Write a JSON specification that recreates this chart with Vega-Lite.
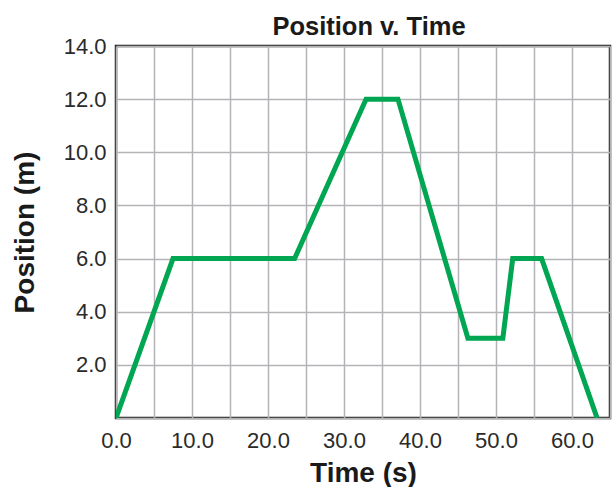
{
  "$schema": "https://vega.github.io/schema/vega-lite/v6.json",
  "width": 494,
  "height": 372,
  "autosize": "none",
  "padding": {"left": 116, "top": 46, "right": 5, "bottom": 69},
  "background": "white",
  "title": {
    "text": "Position v. Time",
    "font": "Liberation Sans",
    "fontSize": 25.5,
    "fontWeight": "bold",
    "color": "#1a1a1a",
    "anchor": "middle",
    "dx": 6,
    "offset": -5
  },
  "data": {
    "values": [
      {"t": 0, "p": 0},
      {"t": 7.5, "p": 6},
      {"t": 23.5, "p": 6},
      {"t": 32.9, "p": 12},
      {"t": 37.1, "p": 12},
      {"t": 46.3, "p": 3},
      {"t": 50.9, "p": 3},
      {"t": 52.2, "p": 6},
      {"t": 56, "p": 6},
      {"t": 63.3, "p": 0}
    ]
  },
  "mark": {"type": "line", "color": "#00a651", "strokeWidth": 5, "strokeJoin": "miter", "strokeCap": "butt", "clip": true},
  "encoding": {
    "x": {
      "field": "t",
      "type": "quantitative",
      "scale": {"domain": [0, 65], "nice": false, "zero": false},
      "axis": {
        "title": "Time (s)",
        "values": [0, 5, 10, 15, 20, 25, 30, 35, 40, 45, 50, 55, 60, 65],
        "labelExpr": "datum.value % 10 == 0 ? format(datum.value, '.1f') : ''",
        "ticks": false,
        "domain": false,
        "labelPadding": 12,
        "labelFont": "Liberation Sans",
        "labelFontSize": 22,
        "labelColor": "#2a2a2a",
        "labelFlush": false,
        "labelOverlap": false,
        "gridColor": "#b3b3b8",
        "gridWidth": 1.5,
        "gridOpacity": 1,
        "titleFont": "Liberation Sans",
        "titleFontSize": 28,
        "titleFontWeight": "bold",
        "titleColor": "#1a1a1a",
        "titlePadding": 8
      }
    },
    "y": {
      "field": "p",
      "type": "quantitative",
      "scale": {"domain": [0, 14], "nice": false, "zero": false},
      "axis": {
        "title": "Position (m)",
        "values": [0, 2, 4, 6, 8, 10, 12, 14],
        "labelExpr": "datum.value == 0 ? '' : format(datum.value, '.1f')",
        "ticks": false,
        "domain": false,
        "labelPadding": 10,
        "labelFont": "Liberation Sans",
        "labelFontSize": 22,
        "labelColor": "#2a2a2a",
        "labelFlush": false,
        "labelOverlap": false,
        "gridColor": "#b3b3b8",
        "gridWidth": 1.5,
        "gridOpacity": 1,
        "titleFont": "Liberation Sans",
        "titleFontSize": 28,
        "titleFontWeight": "bold",
        "titleColor": "#1a1a1a",
        "titlePadding": 24
      }
    }
  },
  "config": {
    "view": {"stroke": "#222222", "strokeWidth": 2.5}
  }
}
